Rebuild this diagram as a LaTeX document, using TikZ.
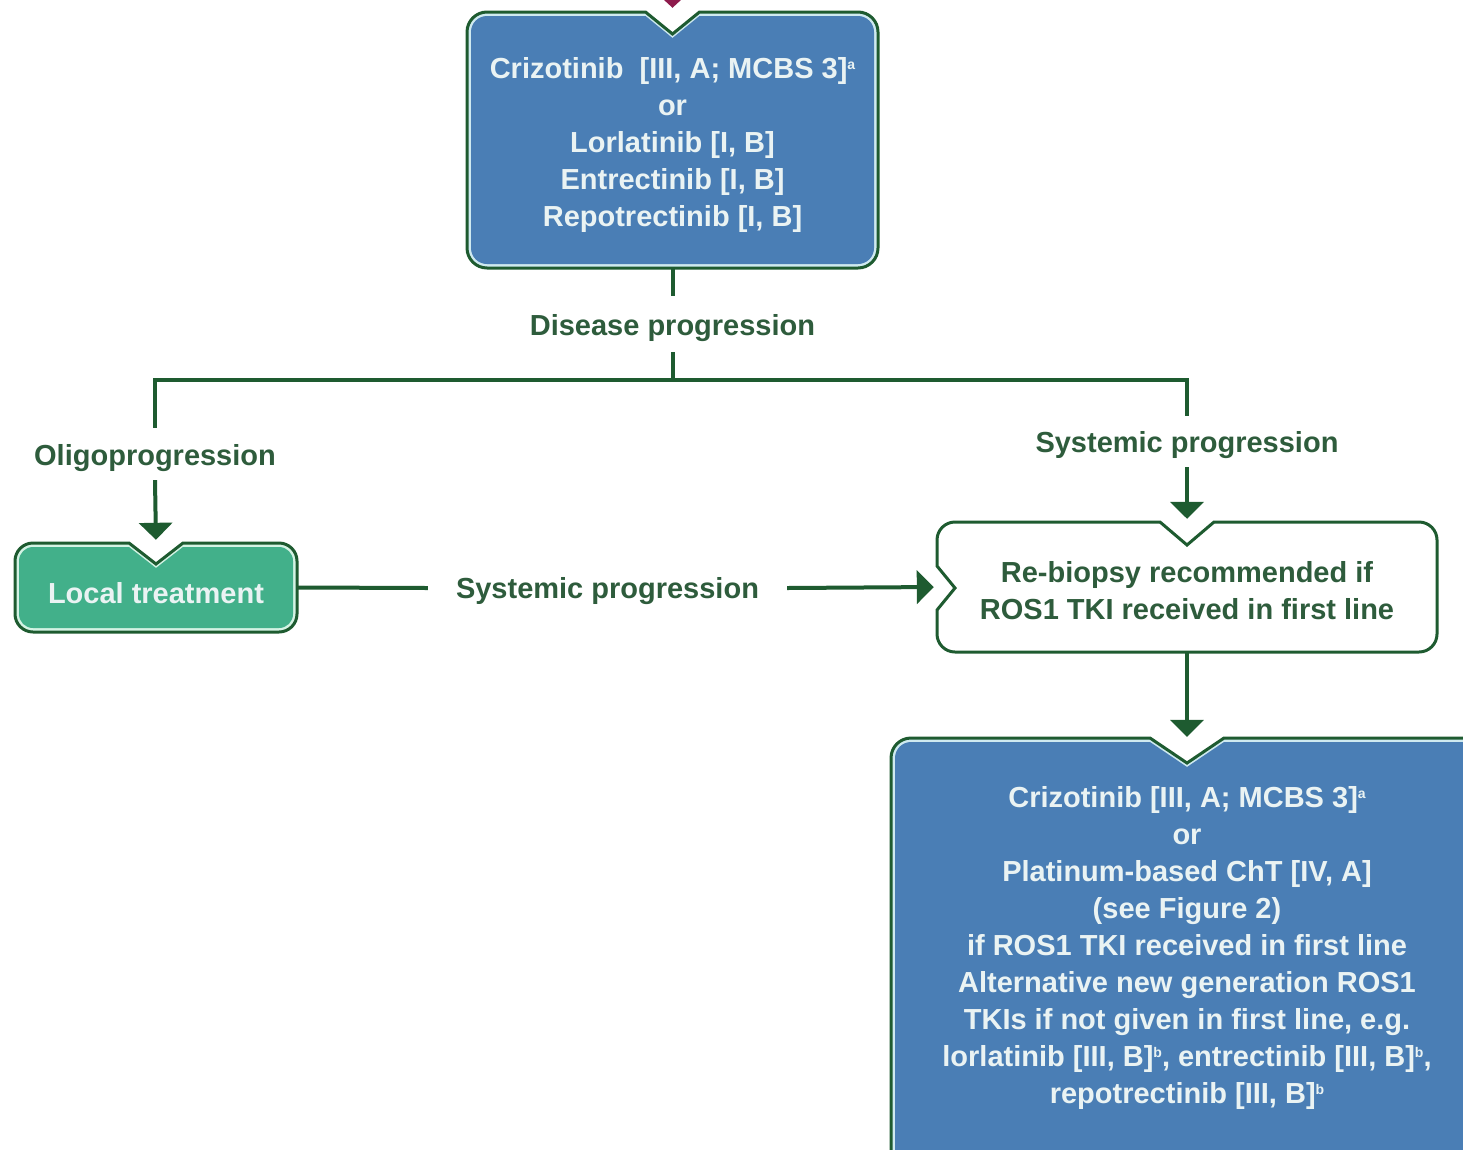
\documentclass[tikz,border=0pt]{standalone}
\usepackage{fontspec}
\setmainfont{Liberation Sans}
\usetikzlibrary{arrows.meta}

\definecolor{linegreen}{HTML}{1E5B30}
\definecolor{labelgreen}{HTML}{2E5C3C}
\definecolor{boxblue}{HTML}{4A7EB5}
\definecolor{boxteal}{HTML}{42B08A}
\definecolor{rimblue}{HTML}{CFEAF0}
\definecolor{rimteal}{HTML}{D4F3E4}
\definecolor{boxtext}{HTML}{EAF3F3}
\definecolor{tipmagenta}{HTML}{8E1B4C}

% small raised footnote mark
\newcommand\fnmark[1]{\raisebox{9pt}{\fontsize{14}{14}\selectfont #1}}

% Rounded box with a V-shaped notch in the middle of its top edge.
% #1 path options, #2 x1, #3 y1, #4 x2, #5 y2, #6 corner radius,
% #7 notch half width, #8 notch depth
\newcommand\topnotchbox[8]{%
  \path[#1] (#2,{(#3+#5)/2}) [rounded corners=#6] -- (#2,#3) [sharp corners]
    -- ({(#2+#4)/2-#7},#3) -- ({(#2+#4)/2},{#3+#8})
    -- ({(#2+#4)/2+#7},#3) [rounded corners=#6] -- (#4,#3)
    -- (#4,#5) -- (#2,#5) -- cycle;}

\begin{document}
\begin{tikzpicture}[x=1pt,y=-1pt,
  conn/.style={draw=linegreen, line width=4pt},
  arr/.style={conn, -{Triangle[width=33pt,length=17pt]}},
  txtfont/.style={font=\bfseries\fontsize{29}{37}\selectfont},
  lbl/.style={txtfont, text=labelgreen, inner sep=0pt, align=center},
  boxtxt/.style={txtfont, text=boxtext, inner sep=0pt, align=center},
  area/.style={inner sep=0pt}]

\useasboundingbox (0,0) rectangle (1463,1149);
\clip (0,0) rectangle (1463,1149);

% ---------- boxes ----------
% first-line treatment
\topnotchbox{fill=rimblue, draw=linegreen, line width=3pt}{467}{12}{878}{268}{20}{27}{22}
\topnotchbox{fill=boxblue}{471}{16}{874}{264}{16}{27}{22}
\node[area, minimum width=411pt, minimum height=256pt] (first) at (672.5,140) {};
\node[boxtxt] (firsttext) at (672.5,145)
  {Crizotinib\ \ [III, A; MCBS 3]\fnmark{a}\\or\\Lorlatinib [I, B]\\Entrectinib [I, B]\\Repotrectinib [I, B]};

% local treatment
\topnotchbox{fill=rimteal, draw=linegreen, line width=3pt}{15}{543}{297}{632}{18}{27}{21}
\topnotchbox{fill=boxteal}{19}{547}{293}{628}{14}{27}{21}
\node[area, minimum width=282pt, minimum height=89pt] (local) at (156,587.5) {};
\node[boxtxt] (localtext) at (156,593) {Local treatment};

% re-biopsy box with an extra notch on its left side
\path[fill=white, draw=linegreen, line width=3pt]
  (1437,587) [rounded corners=18] -- (1437,522) [sharp corners]
  -- (1214,522) -- (1187,545) -- (1160,522) [rounded corners=18]
  -- (937,522) [sharp corners] -- (937,566) -- (955,588) -- (937,610)
  [rounded corners=18] -- (937,652) -- (1437,652) -- cycle;
\node[area, minimum width=500pt, minimum height=130pt] (rebiopsy) at (1187,587) {};
\node[lbl] (rebiopsytext) at (1187,591)
  {Re-biopsy recommended if\\ROS1 TKI received in first line};

% second-line treatment
\topnotchbox{fill=rimblue, draw=linegreen, line width=3pt}{891}{738}{1483}{1190}{20}{37}{25}
\topnotchbox{fill=boxblue}{895}{742}{1479}{1186}{16}{37}{25}
\node[area, minimum width=592pt, minimum height=414pt] (second) at (1187,945) {};
\node[boxtxt] (secondtext) at (1187,948)
  {Crizotinib [III, A; MCBS 3]\fnmark{a}\\or\\Platinum-based ChT [IV, A]\\(see Figure 2)\\
   if ROS1 TKI received in first line\\Alternative new generation ROS1\\
   TKIs if not given in first line, e.g.\\
   lorlatinib [III, B]\fnmark{b}, entrectinib [III, B]\fnmark{b},\\
   repotrectinib [III, B]\fnmark{b}};

% ---------- labels (text height/depth set the gaps left in the lines) ----------
\node[lbl, anchor=base, text height=39.5pt, text depth=16.5pt] (disease)
  at (672.5,335.5) {Disease progression};
\node[lbl, anchor=base, text height=37.5pt, text depth=14.5pt] (oligo)
  at (155,465.5) {Oligoprogression};
\node[lbl, anchor=base, text height=36.5pt, text depth=14.5pt] (systemic)
  at (1187,452.5) {Systemic progression};
\node[lbl, anchor=base, text height=21pt, text depth=0pt, inner xsep=28pt] (systemicb)
  at (607.5,598.5) {Systemic progression};
\coordinate (split) at (672.5,380);
\coordinate (entry) at (672.5,-40);

% ---------- connectors ----------
\draw[conn, draw=tipmagenta, -{Triangle[width=36pt,length=17pt]}, shorten >=4pt]
  (entry) -- (first.north);
\draw[conn] (first.south) -- (disease.north);
\draw[conn] (disease.south) -- (split);
\draw[conn] (oligo.north) -- (oligo.north |- split) -- (systemic.north |- split)
  -- (systemic.north);
\draw[arr, shorten >=3pt] (oligo.south) -- (local.north);
\draw[arr, shorten >=3pt] (systemic.south) -- (rebiopsy.north);
\draw[conn] (local.east) -- (systemicb.west);
\draw[arr, shorten >=3pt] (systemicb.east) -- (rebiopsy.west);
\draw[arr, shorten >=1pt] (rebiopsy.south) -- (second.north);

\end{tikzpicture}
\end{document}
